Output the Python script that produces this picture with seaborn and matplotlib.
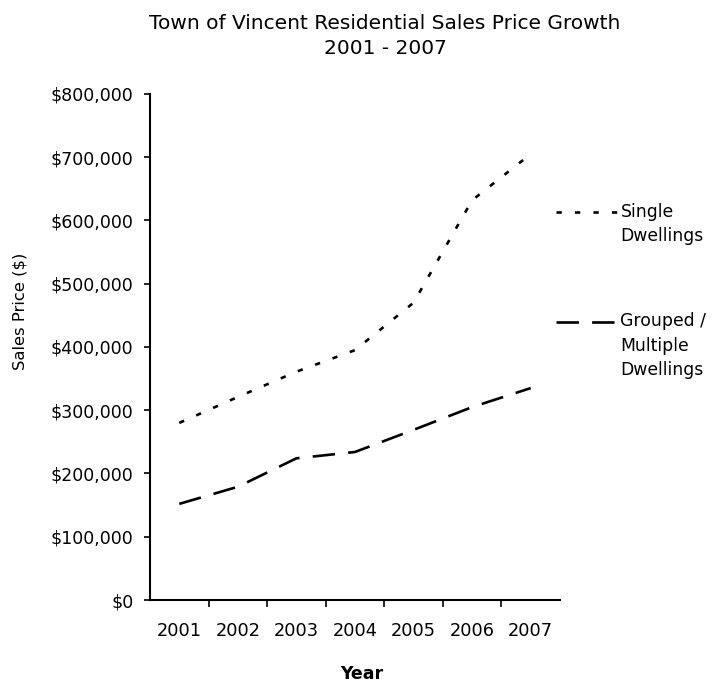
import matplotlib
matplotlib.use('Agg')
import matplotlib.pyplot as plt
import matplotlib.ticker as mticker
from matplotlib.lines import Line2D
from matplotlib.legend_handler import HandlerLine2D
import numpy as np
import seaborn as sns
import pandas as pd

# values
YEARS = [2001, 2002, 2003, 2004, 2005, 2006, 2007]
SINGLE = [280000, 321000, 361000, 395000, 470000, 632000, 705000]
GROUPED = [152000, 179000, 224000, 234000, 269000, 305000, 335000]
LABELS = ['Single\nDwellings', 'Grouped /\nMultiple\nDwellings']

DOTS = (2, 5.0)
DASHES = (8.5, 5.0)
LW = 1.9

sns.set_theme(style='white')
plt.rcParams['font.family'] = ['DejaVu Sans']
for key in ['text.color', 'axes.labelcolor', 'xtick.color', 'ytick.color']:
    plt.rcParams[key] = 'black'


class FirstLineHandler(HandlerLine2D):
    """legend line lined up with the first line of a multi-line label"""
    def __init__(self, nlines, step, **kw):
        super().__init__(**kw)
        self.shift = (nlines - 1) * step / 2

    def create_artists(self, legend, orig_handle, xdescent, ydescent,
                       width, height, fontsize, trans):
        arts = super().create_artists(legend, orig_handle, xdescent, ydescent,
                                      width, height, fontsize, trans)
        for a in arts:
            a.set_ydata(np.asarray(a.get_ydata()) + self.shift)
        return arts


df = pd.DataFrame({'Year': YEARS, 'Single': SINGLE, 'Grouped': GROUPED})

fig = plt.figure(figsize=(7.17, 6.84), dpi=100)
ax = fig.add_axes([0.2092, 0.1228, 0.5718, 0.7398])

sns.lineplot(data=df, x='Year', y='Single', ax=ax, color='black', linewidth=LW)
sns.lineplot(data=df, x='Year', y='Grouped', ax=ax, color='black', linewidth=LW)
ax.lines[0].set_dashes(DOTS)
ax.lines[1].set_dashes(DASHES)

ax.set_xlim(2000.5, 2007.5)
ax.set_ylim(0, 800000)
ax.set_xticks(YEARS)
ax.set_xticklabels([str(y) for y in YEARS], fontsize=12.8)
ax.set_xticks([y + 0.5 for y in YEARS[:-1]], minor=True)
ax.yaxis.set_major_locator(mticker.MultipleLocator(100000))
ax.yaxis.set_major_formatter(mticker.FuncFormatter(lambda v, p: f'${v:,.0f}'))
ax.tick_params(axis='y', labelsize=12.5, length=4, width=1.2, direction='out',
               left=True, pad=8)
ax.tick_params(axis='x', which='major', length=0, pad=16)
ax.tick_params(axis='x', which='minor', length=5, width=1.2, direction='out',
               bottom=True)

for side in ['top', 'right']:
    ax.spines[side].set_visible(False)
for side in ['left', 'bottom']:
    ax.spines[side].set_color('black')
    ax.spines[side].set_linewidth(1.5)

ax.set_xlabel('Year', fontsize=12.5, fontweight='bold')
ax.xaxis.set_label_coords(0.517, -0.128)
ax.xaxis.label.set_va('top')
ax.set_ylabel('Sales Price ($)', fontsize=11.8)
ax.yaxis.set_label_coords(-0.30, 0.571)
fig.suptitle('Town of Vincent Residential Sales Price Growth\n2001 - 2007',
             x=0.537, y=0.98, fontsize=14.5, linespacing=1.45, va='top')

fs = 12.4
ls = 1.45
h1 = Line2D([], [], color='black', linewidth=LW, dashes=DOTS)
h2 = Line2D([], [], color='black', linewidth=LW, dashes=DASHES)
leg = ax.legend([h1, h2], LABELS, loc='upper left',
                bbox_to_anchor=(0.99, 0.785), frameon=False, fontsize=fs,
                handlelength=3.6, handletextpad=0.15, borderpad=0,
                borderaxespad=0, labelspacing=3.9,
                handler_map={h1: FirstLineHandler(2, fs * ls),
                             h2: FirstLineHandler(3, fs * ls)})
for t in leg.get_texts():
    t.set_linespacing(ls)

fig.savefig('out.png', dpi=100)
